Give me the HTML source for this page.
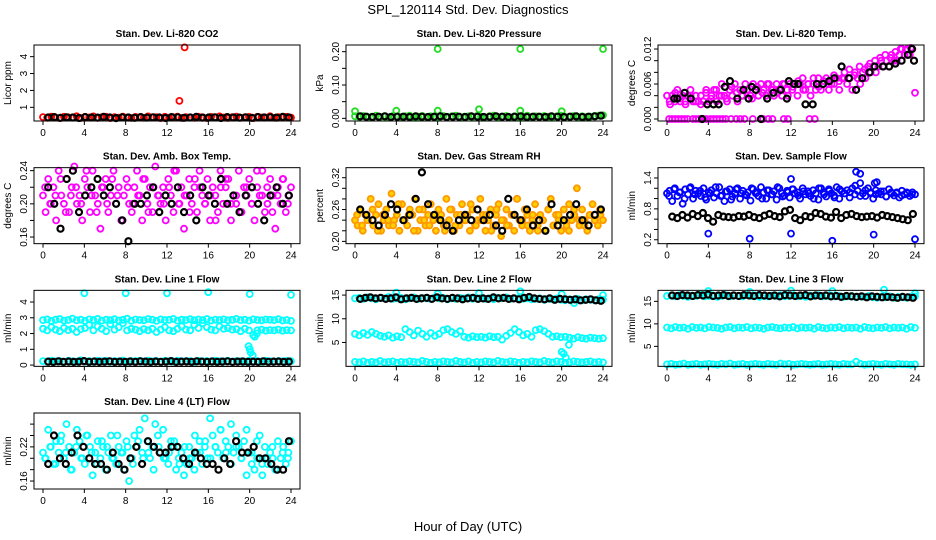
<!DOCTYPE html>
<html><head><meta charset="utf-8"><style>
html,body{margin:0;padding:0;background:#fff}
svg{display:block}
text{font-family:"Liberation Sans",Arial,sans-serif}
</style></head><body>
<svg id="chart" xmlns="http://www.w3.org/2000/svg" width="936" height="540" viewBox="0 0 936 540">
<rect x="0" y="0" width="936" height="540" fill="#fff"/>
<text x="468" y="14" font-size="13" text-anchor="middle">SPL_120114  Std. Dev. Diagnostics</text>
<text x="468" y="531" font-size="13" text-anchor="middle">Hour of Day (UTC)</text>
</svg>
<script>
const hourTicks=[0,4,8,12,16,20,24];
// CO2
const co2Red=[0.42,0.38,0.45,0.40,0.36,0.44,0.41,0.39,0.47,0.37,0.43,0.40,0.46,0.38,0.41,0.44,0.36,0.42,0.39,0.45,0.40,0.37,0.43,0.41,0.38,0.46,0.40,0.42,0.36,0.44,0.39,0.41,0.45,0.37,0.42,0.40,0.38,0.44,0.41,0.36,0.43,0.39,0.46,0.40,0.37,0.42,0.45,0.38,0.41,0.43,0.36,0.44,0.40,0.39,0.47,0.38,0.42,0.40,0.44,0.39];
const co2OutT=[13.2,13.7];
const co2OutV=[1.38,4.55];
const co2Black=[0.40,0.42,0.38,0.41,0.40,0.37,0.42,0.40,0.39,0.43,0.40,0.36,0.41,0.40,0.38,0.42,0.39,0.41,0.40,0.37,0.42,0.41,0.38,0.40,0.43,0.39,0.40,0.41,0.37,0.42,0.40,0.39,0.41,0.38,0.42,0.40,0.41,0.39,0.43,0.40];
// Pressure
const presGreen=[0.006,0.004,0.007,0.003,0.005,0.008,0.004,0.006,0.003,0.007,0.005,0.004,0.006,0.008,0.003,0.005,0.007,0.004,0.006,0.003,0.005,0.007,0.004,0.006,0.008,0.003,0.005,0.006,0.004,0.007,0.005,0.003,0.006,0.008,0.004,0.005,0.007,0.003,0.006,0.004,0.005,0.008,0.003,0.006,0.004,0.007,0.005,0.003,0.006,0.008,0.004,0.005,0.007,0.003,0.006,0.004,0.005,0.007,0.008,0.009];
const presSpikeT=[0,4,8,12,16,20,8,16,24];
const presSpikeV=[0.021,0.023,0.023,0.027,0.023,0.021,0.208,0.208,0.208];
const presBlack=[0.006,0.005,0.004,0.005,0.006,0.004,0.005,0.005,0.004,0.006,0.005,0.004,0.005,0.006,0.004,0.005,0.005,0.004,0.006,0.005,0.004,0.005,0.006,0.005,0.004,0.005,0.006,0.004,0.005,0.005,0.004,0.006,0.005,0.004,0.005,0.006,0.004,0.005,0.006,0.008];
// Li-820 temp
const tempMag=[0.004,0.003,0.004,0.003,0.005,0.003,0.004,0.003,0.004,0.005,0.003,0.004,0.003,0.004,0.003,0.005,
0.003,0.004,0.005,0.003,0.004,0.006,0.004,0.003,0.005,0.004,0.006,0.003,0.005,0.004,0.006,0.005,
0.004,0.006,0.005,0.004,0.006,0.005,0.004,0.006,0.005,0.004,0.006,0.005,0.004,0.006,0.005,0.006,
0.005,0.006,0.004,0.006,0.007,0.005,0.006,0.004,0.006,0.005,0.007,0.005,0.006,0.007,0.005,0.006,
0.006,0.007,0.005,0.007,0.008,0.006,0.007,0.005,0.008,0.007,0.006,0.008,0.007,0.009,0.008,0.009,
0.008,0.009,0.010,0.009,0.010,0.009,0.011,0.010,0.010,0.011,0.012,0.011,0.012,0.011,0.012,0.0045];
const tempMag2=[0.0025,0.0045,0.0035,0.0025,0.0040,0.0030,0.0025,0.0045,0.0035,0.0050,0.0040,0.0035,0.0055,0.0045,0.0040,0.0050,0.0035,0.0055,0.0045,0.0060,0.0050,0.0045,0.0060,0.0040,0.0055,0.0065,0.0050,0.0060,0.0070,0.0055,0.0065,0.0060,0.0075,0.0065,0.0070,0.0085,0.0075,0.0090,0.0085,0.0095,0.0100,0.0105,0.0110,0.0105,0.0115,0.0120,0.0118,0.0122];
const tempZeroT=[0.2,0.5,0.8,1.1,1.4,1.7,2.0,2.5,2.8,3.1,3.5,3.8,4.2,4.5,4.8,5.1,5.4,5.7,6.2,6.7,7.1,7.5,8.3,9.3,9.8,10.2,11.3,11.7,13.8,14.3];
const tempBlackT=[0.7,1.0,1.7,2.3,3.4,3.9,4.5,5.0,5.6,6.1,6.8,7.4,7.9,8.2,8.6,9.1,9.7,10.3,11.0,11.6,11.8,12.3,12.7,13.4,14.1,14.5,15.1,15.7,16.2,16.9,17.6,18.3,18.9,19.6,20.1,20.9,21.5,22.1,22.7,23.3,23.7,23.9];
const tempBlackV=[0.0035,0.0035,0.0045,0.0035,0,0.0025,0.0025,0.0025,0.0055,0.0065,0.0035,0.0050,0.0035,0.0055,0.0050,0,0.0035,0.0045,0.0050,0.0035,0.0065,0.0060,0.0060,0.0025,0.0025,0.0060,0.0060,0.0065,0.0070,0.0090,0.0070,0.0050,0.0070,0.0080,0.0090,0.0090,0.0090,0.0095,0.0100,0.0110,0.0120,0.0100];
// Amb box temp
const ambMag=[0.21,0.19,0.23,0.20,0.22,0.18,0.24,0.21,0.20,0.23,0.19,0.22,0.245,0.20,0.21,0.18,0.23,0.22,0.19,0.24,0.21,0.20,0.17,0.22,0.23,0.19,0.21,0.24,0.20,0.22,0.18,0.21,0.23,0.20,0.19,0.22,0.24,0.21,0.18,0.23,0.20,0.22,0.19,0.245,0.21,0.20,0.22,0.18,0.23,0.21,0.19,0.24,0.20,0.22,0.17,0.21,0.23,0.20,0.22,0.19,0.24,0.21,0.20,0.23,0.18,0.22,0.21,0.19,0.24,0.20,0.22,0.23,0.18,0.21,0.20,0.24,0.19,0.22,0.21,0.23,0.20,0.18,0.22,0.21,0.24,0.19,0.20,0.23,0.21,0.17,0.22,0.20,0.23,0.19,0.21,0.22];
const ambMag2=[0.22,0.20,0.21,0.23,0.19,0.21,0.22,0.20,0.24,0.21,0.19,0.22,0.20,0.23,0.21,0.18,0.22,0.20,0.21,0.23,0.19,0.22,0.21,0.20,0.22,0.24,0.20,0.21,0.19,0.23,0.22,0.20,0.21,0.18,0.22,0.23,0.20,0.21,0.19,0.22,0.20,0.24,0.21,0.22,0.19,0.21,0.23,0.20];
const ambBlack=[0.22,0.20,0.17,0.23,0.24,0.19,0.21,0.22,0.23,0.21,0.22,0.20,0.18,0.155,0.20,0.20,0.21,0.22,0.19,0.21,0.20,0.22,0.19,0.21,0.18,0.22,0.21,0.20,0.23,0.20,0.21,0.19,0.21,0.22,0.20,0.18,0.21,0.22,0.20,0.21];
// Gas stream RH
const rhOrange=[0.24,0.23,0.26,0.22,0.25,0.24,0.28,0.23,0.25,0.27,0.22,0.24,0.26,0.23,0.29,0.24,0.25,0.22,0.27,0.24,0.23,0.26,0.25,0.28,0.22,0.24,0.26,0.23,0.25,0.27,0.24,0.22,0.26,0.25,0.23,0.28,0.24,0.26,0.22,0.25,0.23,0.27,0.24,0.25,0.22,0.26,0.23,0.24,0.28,0.25,0.22,0.24,0.26,0.23,0.25,0.27,0.21,0.24,0.26,0.23,0.25,0.22,0.28,0.24,0.23,0.26,0.25,0.22,0.24,0.27,0.23,0.25,0.24,0.22,0.26,0.28,0.23,0.25,0.24,0.22,0.26,0.23,0.27,0.24,0.25,0.30,0.23,0.26,0.24,0.22,0.25,0.27,0.24,0.23,0.25,0.24];
const rhOrange2=[0.25,0.23,0.24,0.26,0.22,0.25,0.24,0.23,0.27,0.24,0.25,0.22,0.26,0.24,0.23,0.25,0.24,0.22,0.26,0.23,0.25,0.24,0.27,0.23,0.24,0.25,0.22,0.26,0.24,0.23,0.25,0.28,0.24,0.23,0.25,0.22,0.24,0.26,0.23,0.25,0.24,0.22,0.26,0.24,0.23,0.25,0.24,0.26];
const rhBlack=[0.26,0.25,0.24,0.23,0.25,0.27,0.26,0.24,0.25,0.28,0.33,0.27,0.25,0.24,0.23,0.22,0.24,0.25,0.24,0.26,0.24,0.25,0.23,0.22,0.28,0.25,0.24,0.26,0.23,0.24,0.22,0.27,0.23,0.24,0.25,0.27,0.24,0.23,0.25,0.26];
// Sample flow
const flowBlue=[1.10,1.15,0.95,1.20,1.05,1.12,0.90,1.18,1.08,1.22,1.00,1.15,1.10,1.05,1.20,0.98,1.12,1.16,1.02,1.10,1.22,1.06,0.95,1.14,1.18,1.04,1.10,1.20,1.00,1.15,1.08,1.12,0.96,1.18,1.10,1.05,1.22,1.12,1.00,1.16,1.08,1.14,0.98,1.20,1.10,1.06,1.15,1.02,1.18,1.10,1.12,1.00,1.20,1.08,1.14,1.05,1.16,1.10,0.98,1.20,1.12,1.04,1.18,1.10,1.06,1.22,1.00,1.14,1.10,1.16,1.02,1.20,1.08,1.15,1.30,1.10,1.05,1.20,1.12,1.00,1.16,1.10,1.08,1.14,1.04,1.18,1.10,1.06,1.12,1.02,1.15,1.08,1.10,1.05,1.12,1.08];
const flowBlue2=[1.05,1.18,1.12,1.00,1.20,1.08,1.15,1.02,1.10,1.22,1.05,1.14,0.98,1.18,1.10,1.06,1.20,1.12,1.00,1.16,1.08,1.22,1.04,1.12,1.18,1.06,1.14,1.10,1.00,1.20,1.08,1.15,1.02,1.18,1.10,1.12,1.25,1.05,1.16,1.10,1.08,1.14,1.04,1.12,1.10,1.06,1.12,1.08];
const flowOutT=[4,8,12,16,20,24,12,18.3,18.7,20.1,20.3];
const flowOutV=[0.32,0.22,0.32,0.18,0.30,0.21,1.38,1.52,1.48,1.30,1.32];
const flowBlack=[0.65,0.62,0.68,0.63,0.70,0.66,0.72,0.62,0.55,0.68,0.65,0.64,0.63,0.66,0.65,0.68,0.64,0.62,0.67,0.70,0.66,0.64,0.75,0.78,0.62,0.58,0.66,0.64,0.72,0.70,0.65,0.63,0.74,0.62,0.68,0.70,0.66,0.64,0.65,0.66,0.63,0.68,0.66,0.64,0.62,0.60,0.58,0.70];
// Line 1
const l1Top=[2.85,2.90,2.80,2.88,2.92,2.82,2.86,2.95,2.84,2.88,2.80,2.90,2.86,2.93,2.82,2.88,2.85,2.91,2.83,2.87,2.94,2.81,2.89,2.86,2.84,2.92,2.88,2.80,2.90,2.85,2.87,2.93,2.82,2.88,2.86,2.91,2.84,2.89,2.85,2.92,2.83,2.88,2.86,2.90,2.84,2.87,2.93,2.85,2.88,2.82,2.90,2.86,2.84,2.89,2.87,2.85,2.91,2.83,2.86,2.80];
const l1Mid=[2.30,2.20,2.40,2.25,2.15,2.35,2.22,2.30,2.10,2.28,2.35,2.55,2.20,2.45,2.30,2.15,2.60,2.25,2.40,2.65,2.20,2.30,2.25,2.15,2.28,2.20,2.30,2.10,2.25,2.40,2.20,2.15,2.30,2.45,2.25,2.20,2.55,2.35,2.65,2.40,2.25,2.20,2.45,2.30,2.35,2.25,2.28,2.15,2.30,2.20,1.90,2.20,2.25,2.18,2.22,2.20,2.25,2.18,2.22,2.20];
const l1Bot=[0.25,0.22,0.28,0.24,0.26,0.21,0.27,0.25,0.23,0.30,0.24,0.26,0.22,0.28,0.25,0.27,0.23,0.26,0.24,0.29,0.22,0.26,0.25,0.27,0.23,0.28,0.24,0.26,0.22,0.27,0.25,0.23,0.28,0.24,0.26,0.25,0.22,0.27,0.24,0.26,0.23,0.28,0.25,0.24,0.27,0.22,0.26,0.25,0.23,0.27,0.24,0.26,0.22,0.28,0.25,0.23,0.26,0.24,0.27,0.25];
const l1DropT=[19.9,20.0,20.1,20.3,20.5,20.7,4,8,12,16,20,24];
const l1DropV=[1.2,1.0,0.8,0.6,1.8,2.0,4.55,4.55,4.55,4.62,4.50,4.45];
const l1Black=[0.22,0.20,0.24,0.21,0.23,0.20,0.22,0.25,0.21,0.23,0.20,0.22,0.24,0.21,0.22,0.20,0.23,0.21,0.24,0.22,0.20,0.23,0.21,0.22,0.25,0.20,0.22,0.23,0.21,0.24,0.22,0.20,0.23,0.21,0.22,0.24,0.20,0.22,0.23,0.21,0.22,0.20,0.24,0.21,0.22,0.23,0.20,0.22];
// Line 2
const l2Top=[14.3,14.4,14.2,14.5,14.3,14.1,14.4,14.3,14.6,14.2,14.3,14.4,14.1,14.3,14.5,14.2,14.4,14.3,14.2,14.5,14.3,14.4,14.1,14.3,14.2,14.4,14.3,14.5,14.2,14.3,14.4,14.2,14.3,14.1,14.4,14.3,14.5,14.2,14.3,14.4,14.2,14.3,14.1,14.2,14.3,14.0,14.2,14.1,14.3,14.0,13.9,14.1,14.0,14.2,13.9,14.1,14.0,13.9,14.1,14.0];
const l2Mid=[6.8,6.5,7.0,6.6,7.2,6.8,6.4,6.2,6.5,6.0,6.3,6.1,7.8,7.2,6.5,7.5,6.8,6.2,7.0,6.4,6.8,7.6,7.8,7.2,6.8,7.4,6.2,6.0,6.3,6.1,6.2,6.0,6.3,6.1,6.2,5.6,6.4,7.0,7.8,7.2,6.5,6.8,6.2,7.6,7.8,7.4,6.8,6.2,6.3,6.1,6.2,6.0,5.8,6.1,5.9,5.8,6.0,5.9,5.8,5.9];
const l2Bot=[0.9,0.8,1.0,0.7,0.9,0.8,1.1,0.8,0.9,1.0,0.7,0.9,0.8,1.0,0.9,0.8,1.1,0.9,0.7,0.9,0.8,1.0,0.9,0.8,1.1,0.9,0.8,1.0,0.7,0.9,0.8,1.0,0.9,0.8,1.1,0.9,0.8,1.0,0.9,0.7,0.9,0.8,1.0,0.9,0.8,1.1,0.9,0.8,1.0,0.9,0.7,0.8,1.0,0.9,0.8,0.9,1.0,0.8,0.9,0.8];
const l2OutT=[4,8,12,16,20,24,20.0,20.2,20.4,20.7,21.2];
const l2OutV=[15.5,15.3,15.4,15.8,15.2,15.0,3.0,2.6,1.8,4.5,13.3];
const l2Black=[14.2,14.4,14.5,14.3,14.4,14.2,14.3,14.5,14.1,14.3,14.4,14.2,14.3,14.4,14.2,14.5,14.3,14.2,14.4,14.3,14.1,14.3,14.4,14.2,14.3,14.2,14.5,14.3,14.4,14.2,14.3,14.1,14.4,14.6,14.3,14.2,14.1,14.3,14.0,14.2,14.1,14.0,14.1,13.9,14.0,14.1,13.9,13.8];
// Line 3
const l3Top=[16.2,16.3,16.1,16.4,16.2,16.0,16.3,16.2,16.5,16.1,16.2,16.3,16.0,16.2,16.4,16.1,16.3,16.2,16.1,16.4,16.2,16.3,16.0,16.2,16.1,16.3,16.2,16.4,16.1,16.2,16.3,16.1,16.2,16.0,16.3,16.2,16.4,16.1,16.2,16.3,16.1,16.2,16.0,16.1,16.2,15.9,16.1,16.0,16.2,15.9,15.8,16.0,15.9,16.1,15.8,16.0,15.9,15.8,16.0,16.1];
const l3Mid=[9.2,9.0,9.3,9.1,9.2,8.9,9.3,9.1,9.2,9.0,9.3,9.2,9.1,8.9,9.2,9.3,9.0,9.2,9.1,9.3,9.0,9.2,9.1,8.9,9.2,9.3,9.1,9.0,9.2,9.1,9.3,9.0,9.2,9.1,9.2,8.9,9.3,9.1,9.0,9.2,9.1,9.3,9.0,9.2,9.1,9.2,8.9,9.3,9.1,9.0,9.2,9.1,9.3,9.0,9.2,9.1,9.2,8.9,9.3,9.1];
const l3Bot=[1.0,1.1,0.9,1.0,1.2,0.9,1.0,1.1,0.9,1.0,1.1,1.0,0.9,1.1,1.0,1.2,0.9,1.0,1.1,0.9,1.0,1.1,1.0,0.9,1.1,1.0,0.9,1.2,1.0,1.1,0.9,1.0,1.1,1.0,0.9,1.0,1.1,0.9,1.0,1.1,1.0,0.9,1.1,1.0,1.0,1.6,1.1,0.9,1.0,1.1,1.0,0.9,1.1,1.0,0.9,1.1,1.0,1.0,0.9,1.0];
const l3OutT=[4,8,12,16,21,24];
const l3OutV=[17.3,17.1,17.4,17.3,17.6,16.8];
const l3Black=[16.3,16.2,16.4,16.3,16.2,16.4,16.3,16.5,16.2,16.3,16.4,16.2,16.3,16.2,16.4,16.3,16.2,16.4,16.3,16.2,16.3,16.1,16.4,16.3,16.2,16.3,16.4,16.1,16.3,16.2,16.3,16.1,16.2,16.0,16.2,16.1,16.0,16.1,15.9,16.1,16.0,15.9,16.0,15.9,15.8,16.0,15.9,15.8];
// Line 4
const l4Cyan=[0.21,0.20,0.25,0.22,0.19,0.23,0.21,0.24,0.20,0.26,0.22,0.18,0.21,0.25,0.23,0.20,0.19,0.24,0.22,0.17,0.21,0.23,0.20,0.22,0.18,0.21,0.24,0.20,0.19,0.22,0.21,0.18,0.23,0.16,0.20,0.24,0.22,0.25,0.21,0.27,0.23,0.20,0.22,0.26,0.24,0.21,0.25,0.20,0.19,0.23,0.22,0.18,0.20,0.21,0.17,0.19,0.22,0.20,0.18,0.21,0.23,0.19,0.22,0.20,0.27,0.24,0.22,0.21,0.25,0.20,0.23,0.22,0.26,0.21,0.24,0.22,0.20,0.23,0.25,0.21,0.19,0.18,0.20,0.24,0.17,0.22,0.19,0.21,0.20,0.18,0.23,0.20,0.22,0.19,0.21,0.23];
const l4Cyan2=[0.20,0.22,0.19,0.23,0.21,0.18,0.22,0.20,0.24,0.21,0.19,0.23,0.22,0.20,0.24,0.21,0.22,0.19,0.23,0.20,0.21,0.18,0.22,0.20,0.21,0.23,0.19,0.22,0.20,0.24,0.21,0.23,0.20,0.22,0.25,0.21,0.19,0.22,0.20,0.17,0.21,0.23,0.19,0.20,0.22,0.18,0.21,0.20];
const l4Black=[0.19,0.24,0.20,0.19,0.21,0.24,0.22,0.20,0.19,0.19,0.18,0.21,0.19,0.18,0.20,0.22,0.19,0.23,0.22,0.21,0.21,0.22,0.22,0.20,0.19,0.21,0.20,0.19,0.19,0.18,0.20,0.19,0.23,0.21,0.21,0.22,0.20,0.20,0.19,0.18,0.18,0.23];

const panels=[
 {name:'co2',title:'Stan. Dev. Li-820 CO2',ylab:'Licor ppm',ylim:[0.19,4.69],ticks:[1,2,3,4],labels:['1','2','3','4'],
  series:[{y:co2Red,c:'#ff0000'},{t:co2OutT,y:co2OutV,c:'#ff0000'},{y:co2Black,c:'#000',k:1,t0:0.5,t1:23.8}]},
 {name:'pressure',title:'Stan. Dev. Li-820 Pressure',ylab:'kPa',ylim:[-0.008,0.22],ticks:[0,0.05,0.1,0.15,0.2],labels:['0.00','','0.10','','0.20'],
  series:[{y:presGreen,c:'#22dd22'},{t:presSpikeT,y:presSpikeV,c:'#22dd22'},{y:presBlack,c:'#000',k:1,t0:0.5,t1:23.8}]},
 {name:'li820-temp',title:'Stan. Dev. Li-820 Temp.',ylab:'degrees C',ylim:[-0.00034,0.01269],ticks:[0,0.002,0.004,0.006,0.008,0.01,0.012],labels:['0.000','','','0.006','','','0.012'],
  series:[{y:tempMag,c:'#ff00ff'},{y:tempMag2,c:'#ff00ff',t0:0.3,t1:23.6},{t:tempZeroT,y:tempZeroT.map(()=>0),c:'#ff00ff'},{t:tempBlackT,y:tempBlackV,c:'#000',k:1}]},
 {name:'amb-box-temp',title:'Stan. Dev. Amb. Box Temp.',ylab:'degrees C',ylim:[0.152,0.2436],ticks:[0.16,0.18,0.2,0.22,0.24],labels:['0.16','','0.20','','0.24'],
  series:[{y:ambMag,c:'#ff00ff'},{y:ambMag2,c:'#ff00ff',t0:0.2,t1:23.7},{y:ambBlack,c:'#000',k:1,t0:0.5,t1:23.8}]},
 {name:'gas-stream-rh',title:'Stan. Dev. Gas Stream RH',ylab:'percent',ylim:[0.1957,0.3389],ticks:[0.2,0.22,0.24,0.26,0.28,0.3,0.32],labels:['0.20','','','0.26','','','0.32'],
  series:[{y:rhOrange,c:'#ff9900',f:'#ffd000'},{y:rhOrange2,c:'#ff9900',f:'#ffd000',t0:0.2,t1:23.7},{y:rhBlack,c:'#000',k:1,t0:0.5,t1:23.8}]},
 {name:'sample-flow',title:'Stan. Dev. Sample Flow',ylab:'ml/min',ylim:[0.124,1.6],ticks:[0.2,0.4,0.6,0.8,1.0,1.2,1.4],labels:['0.2','','','0.8','','','1.4'],
  series:[{y:flowBlue,c:'#0000ff'},{y:flowBlue2,c:'#0000ff',t0:0.2,t1:23.7},{t:flowOutT,y:flowOutV,c:'#0000ff'},{y:flowBlack,c:'#000',k:1,t0:0.5,t1:23.8}]},
 {name:'line1-flow',title:'Stan. Dev. Line 1 Flow',ylab:'ml/min',ylim:[-0.08,4.74],ticks:[0,1,2,3,4],labels:['0','1','2','3','4'],
  series:[{y:l1Top,c:'#00ffff'},{y:l1Mid,c:'#00ffff'},{y:l1Bot,c:'#00ffff'},{t:l1DropT,y:l1DropV,c:'#00ffff'},{y:l1Black,c:'#000',k:1,t0:0.5,t1:23.8}]},
 {name:'line2-flow',title:'Stan. Dev. Line 2 Flow',ylab:'ml/min',ylim:[-0.04,16.0],ticks:[5,10,15],labels:['5','10','15'],
  series:[{y:l2Top,c:'#00ffff'},{y:l2Mid,c:'#00ffff'},{y:l2Bot,c:'#00ffff'},{t:l2OutT,y:l2OutV,c:'#00ffff'},{y:l2Black,c:'#000',k:1,t0:0.5,t1:23.8}]},
 {name:'line3-flow',title:'Stan. Dev. Line 3 Flow',ylab:'ml/min',ylim:[0.56,17.45],ticks:[5,10,15],labels:['5','10','15'],
  series:[{y:l3Top,c:'#00ffff'},{y:l3Mid,c:'#00ffff'},{y:l3Bot,c:'#00ffff'},{t:l3OutT,y:l3OutV,c:'#00ffff'},{y:l3Black,c:'#000',k:1,t0:0.5,t1:23.8}]},
 {name:'line4-flow',title:'Stan. Dev. Line 4 (LT) Flow',ylab:'ml/min',ylim:[0.146,0.2795],ticks:[0.16,0.18,0.2,0.22,0.24,0.26],labels:['0.16','','','0.22','',''],
  series:[{y:l4Cyan,c:'#00ffff'},{y:l4Cyan2,c:'#00ffff',t0:0.2,t1:23.7},{y:l4Black,c:'#000',k:1,t0:0.5,t1:23.8}]}
];

const NS='http://www.w3.org/2000/svg';
const svg=document.getElementById('chart');
function mk(tag,attrs,parent){const e=document.createElementNS(NS,tag);for(const k in attrs)e.setAttribute(k,attrs[k]);parent.appendChild(e);return e;}

panels.forEach((p,i)=>{
  const r=Math.floor(i/3),c=i%3;
  const L=34+312*c,R=300+312*c,T=45+122.67*r,B=T+76;
  const x0=43+312*c;
  const xs=t=>x0+t*248/24;
  const ys=v=>B-(v-p.ylim[0])/(p.ylim[1]-p.ylim[0])*76;
  const g=mk('g',{},svg);
  
  
  const tt=mk('text',{x:(L+R)/2,y:T-8,'font-size':10,'font-weight':'bold','text-anchor':'middle'},g);
  tt.textContent=p.title;
  
  
  const yl=mk('text',{x:0,y:0,'font-size':10,'text-anchor':'middle',transform:`translate(${L-23},${(T+B)/2}) rotate(-90)`},g);
  yl.textContent=p.ylab;
  
  
  const pts=mk('g',{},g);
  
  
  p.series.forEach(s=>{
    const n=s.y.length;
    const a=s.t0!==undefined?s.t0:0,b=s.t1!==undefined?s.t1:24;
    for(let j=0;j<n;j++){
      const t=s.t?s.t[j]:(n>1?a+j*(b-a)/(n-1):a);
      if(t===undefined)continue;
      const cx=xs(t),cy=ys(s.y[j]);
      const el=mk('circle',{cx:cx.toFixed(1),cy:cy.toFixed(1),r:3,fill:s.f||'none',stroke:s.c,'stroke-width':s.k?2.2:1.8},pts);
      
      
    }
  });
  const box=mk('rect',{x:L,y:T,width:R-L,height:B-T,fill:'none',stroke:'#000','stroke-width':1},g);
  
  
  const xa=mk('g',{},g);
  
  
  mk('line',{x1:xs(0),x2:xs(24),y1:B,y2:B,stroke:'#000'},xa);
  hourTicks.forEach(h=>{
    mk('line',{x1:xs(h),x2:xs(h),y1:B,y2:B+4,stroke:'#000'},xa);
    const lt=mk('text',{x:xs(h),y:B+15,'font-size':10,'text-anchor':'middle'},xa);
    lt.textContent=h;
  });
  const ya=mk('g',{},g);
  
  
  p.ticks.forEach((v,k)=>{
    const y=ys(v);
    mk('line',{x1:L,x2:L-4,y1:y,y2:y,stroke:'#000'},ya);
    if(p.labels[k]){
      const lt=mk('text',{x:0,y:0,'font-size':10,'text-anchor':'middle',transform:`translate(${L-7},${y}) rotate(-90)`},ya);
      lt.textContent=p.labels[k];
    }
  });
});
</script>
</body></html>
